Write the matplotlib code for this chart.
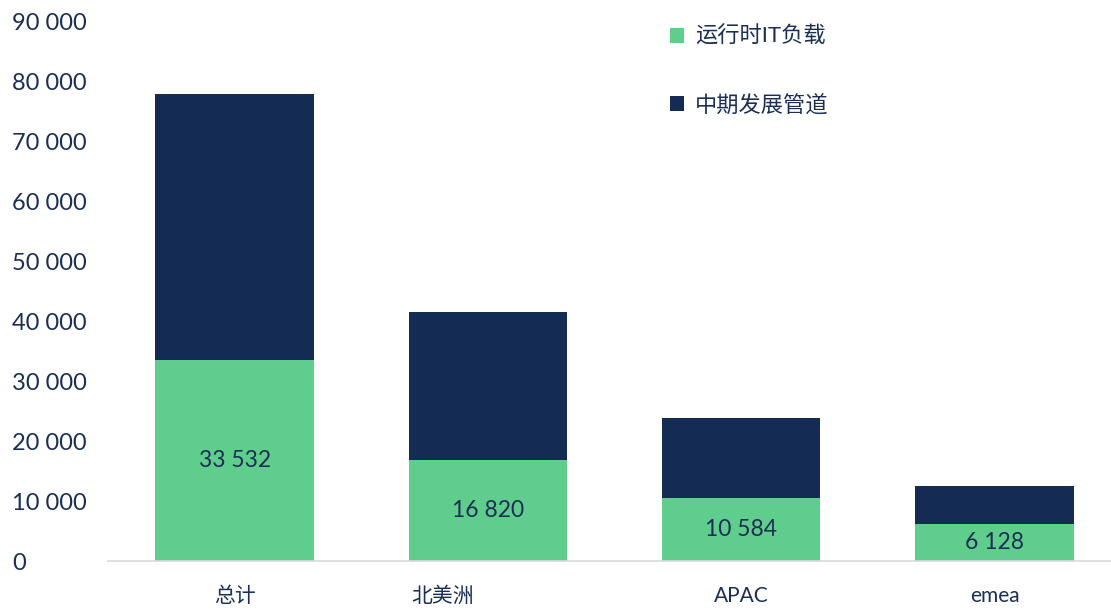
import matplotlib
matplotlib.use("Agg")
import matplotlib.pyplot as plt
import matplotlib.transforms as mtransforms
from matplotlib.ticker import FuncFormatter

plt.rcParams['font.family'] = ['Lato', 'Noto Sans CJK SC', 'DejaVu Sans']

categories = ["总计", "北美洲", "APAC", "emea"]
it_load = [33532, 16820, 10584, 6128]          # 运行时IT负载
pipeline = [44400, 24700, 13300, 6400]         # 中期发展管道

green = "#5fcd8b"
navy = "#142b54"
textc = "#1b2f55"

fig = plt.figure(figsize=(11.11, 6.10), dpi=100)
ax = fig.add_axes([108 / 1111, 49 / 610, 1 - 108 / 1111, 539 / 610])

x = range(len(categories))
ax.bar(x, it_load, width=0.625, color=green, label="运行时IT负载")
ax.bar(x, pipeline, width=0.625, bottom=it_load, color=navy, label="中期发展管道")

for i, v in enumerate(it_load):
    ax.text(i, v / 2, f"{v:,}".replace(",", " "), ha="center", va="center",
            fontsize=16.5, color=textc)

ax.set_xlim(-0.5, 3.46)
ax.set_ylim(0, 90000)
ax.set_yticks(range(0, 90001, 10000))
ax.yaxis.set_major_formatter(FuncFormatter(lambda v, p: f"{int(v):,}".replace(",", " ")))
ax.set_xticks(list(x))
ax.set_xticklabels(categories)
ax.tick_params(axis="y", length=0, labelsize=17, labelcolor=textc, pad=69)
for lab in ax.get_yticklabels():
    lab.set_horizontalalignment("left")
ax.tick_params(axis="x", length=0, labelsize=15, labelcolor=textc, pad=18)

# the 北美洲 label sits left of its bar in the original
lab = ax.get_xticklabels()[1]
lab.set_transform(lab.get_transform() + mtransforms.ScaledTranslation(-0.45, 0, fig.dpi_scale_trans))

for s in ["top", "right", "left"]:
    ax.spines[s].set_visible(False)
ax.spines["bottom"].set_color("#d9d9d9")
ax.spines["bottom"].set_linewidth(1.2)

ax.legend(loc="upper left", bbox_to_anchor=(0.54, 1.03), frameon=False,
          fontsize=16, labelcolor=textc, handlelength=0.65, handleheight=0.65,
          handletextpad=0.5, labelspacing=2.1)

plt.savefig("out.png", dpi=100)
